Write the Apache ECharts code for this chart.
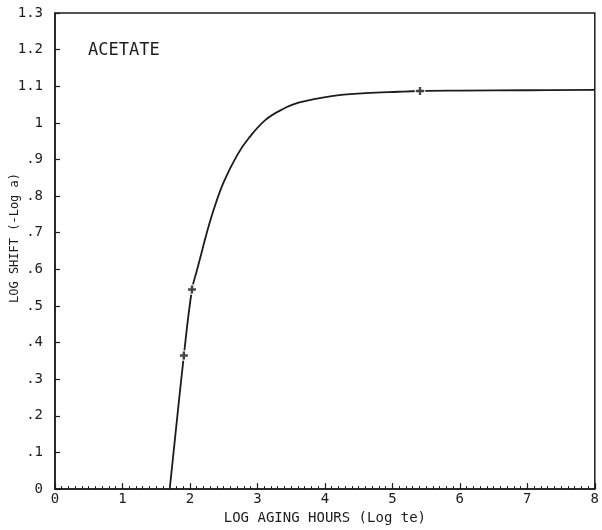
<!DOCTYPE html>
<html>
<head>
<meta charset="utf-8">
<script src="https://cdn.jsdelivr.net/npm/echarts@6/dist/echarts.min.js"></script>
<style>
  html, body { margin: 0; padding: 0; background: #fff; }
  #chart { width: 602px; height: 530px; }
</style>
</head>
<body>
<div id="chart"></div>
<script>
// Log shift vs. log aging hours for acetate
const logAgingHours = [1.70, 1.91, 2.03, 2.10, 2.18, 2.25, 2.35, 2.50, 2.70, 2.87, 3.12, 3.36, 3.61, 4.10, 4.60, 5.09, 5.41, 6.00, 7.00, 8.00];
const logShift      = [0.00, 0.365, 0.545, 0.595, 0.651, 0.70, 0.762, 0.838, 0.912, 0.958, 1.008, 1.036, 1.055, 1.073, 1.081, 1.085, 1.087, 1.088, 1.089, 1.09];

// measured points marked with "+"
const pointHours = [1.91, 2.03, 5.41];
const pointShift = [0.365, 0.545, 1.087];

const xTickLabels = ['0', '1', '2', '3', '4', '5', '6', '7', '8'];
const yTickLabels = ['0', '.1', '.2', '.3', '.4', '.5', '.6', '.7', '.8', '.9', '1', '1.1', '1.2', '1.3'];

const INK = '#1c1c1c';
const FONT = '"DejaVu Sans Mono", "Liberation Mono", monospace';

const curve = logAgingHours.map((x, i) => [x, logShift[i]]);
const points = pointHours.map((x, i) => [x, pointShift[i]]);

const plus = 'path://M-1.2,-4H1.2V-1.2H4V1.2H1.2V4H-1.2V1.2H-4V-1.2H-1.2Z';

const chart = echarts.init(document.getElementById('chart'), null, { renderer: 'canvas' });
chart.setOption({
  animation: false,
  backgroundColor: '#fff',
  grid: {
    left: 55, right: 5, top: 13, bottom: 36,
    show: true, borderColor: INK, borderWidth: 1.5, backgroundColor: 'transparent'
  },
  xAxis: {
    type: 'value', min: 0, max: 8, interval: 1,
    axisLine: { show: true, onZero: false, lineStyle: { color: INK, width: 1.5 } },
    axisTick: { show: true, inside: true, length: 6, lineStyle: { color: INK, width: 1.2 } },
    minorTick: { show: true, splitNumber: 10, length: 3, lineStyle: { color: INK, width: 1 } },
    splitLine: { show: false },
    axisLabel: {
      color: INK, fontFamily: FONT, fontSize: 14, margin: 3,
      formatter: v => xTickLabels[Math.round(v)]
    },
    name: 'LOG AGING HOURS (Log te)',
    nameLocation: 'middle', nameGap: 19,
    nameTextStyle: { color: INK, fontFamily: FONT, fontSize: 14 }
  },
  yAxis: {
    type: 'value', min: 0, max: 1.3, interval: 0.1,
    axisLine: { show: true, onZero: false, lineStyle: { color: INK, width: 1.5 } },
    axisTick: { show: true, inside: true, length: 5, lineStyle: { color: INK, width: 1.2 } },
    splitLine: { show: false },
    axisLabel: {
      color: INK, fontFamily: FONT, fontSize: 14, margin: 12,
      formatter: v => yTickLabels[Math.round(v * 10)]
    }
  },
  graphic: [
    {
      type: 'text', left: 88, top: 42,
      style: { text: 'ACETATE', fill: INK, font: '17px ' + FONT }
    },
    {
      type: 'text', x: 15, y: 238, rotation: Math.PI / 2,
      style: {
        text: 'LOG SHIFT (-Log a)', fill: INK, font: '12px ' + FONT,
        align: 'center', verticalAlign: 'middle'
      }
    }
  ],
  series: [
    {
      type: 'line', data: curve, showSymbol: false, smooth: 0.4,
      lineStyle: { color: INK, width: 1.8 }, z: 2
    },
    {
      type: 'scatter', data: points, symbol: 'circle', symbolSize: 11,
      itemStyle: { color: '#fff' }, z: 3, silent: true
    },
    {
      type: 'scatter', data: points, symbol: plus, symbolSize: 8,
      itemStyle: { color: INK }, z: 4
    }
  ]
});
</script>
</body>
</html>
